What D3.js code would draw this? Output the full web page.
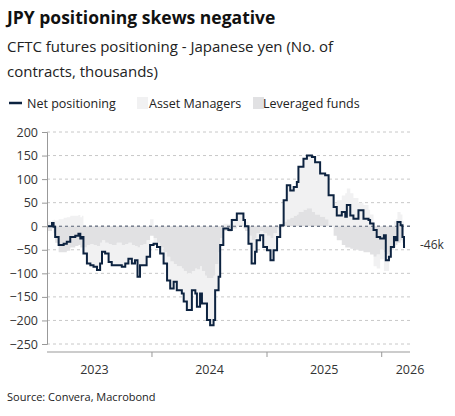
<!DOCTYPE html>
<html><head><meta charset="utf-8">
<script src="https://cdn.jsdelivr.net/npm/d3@7"></script>
<style>body{margin:0;background:#fff;font-family:"Open Sans",sans-serif;}</style>
</head><body><div id="chart"></div>
<script>
const dates = ["2023-02-01","2023-02-17","2023-02-22","2023-02-27","2023-03-10","2023-03-26","2023-04-05","2023-04-16","2023-05-02","2023-05-12","2023-05-18","2023-05-23","2023-05-28","2023-06-08","2023-06-19","2023-06-29","2023-07-10","2023-07-20","2023-07-26","2023-08-05","2023-08-16","2023-08-26","2023-09-11","2023-09-27","2023-10-08","2023-10-18","2023-10-29","2023-11-08","2023-11-16","2023-11-24","2023-12-05","2023-12-15","2023-12-26",
"2024-01-06","2024-01-17","2024-01-27","2024-02-07","2024-02-18","2024-02-28","2024-03-10","2024-03-20","2024-04-05","2024-04-11","2024-04-21","2024-05-02","2024-05-07","2024-05-18","2024-05-23","2024-06-02","2024-06-08","2024-06-18","2024-06-24","2024-07-04","2024-07-15","2024-07-20","2024-07-31","2024-08-05","2024-08-15","2024-08-31","2024-09-11","2024-09-27","2024-10-07","2024-10-18","2024-10-23","2024-11-03","2024-11-13","2024-11-24","2024-11-29","2024-12-10","2024-12-20",
"2025-01-01","2025-01-12","2025-01-22","2025-02-02","2025-02-12","2025-02-23","2025-03-05","2025-03-16","2025-03-27","2025-04-06","2025-04-11","2025-04-27","2025-05-08","2025-05-24","2025-06-03","2025-06-19","2025-07-05","2025-07-16","2025-08-01","2025-08-11","2025-08-27","2025-09-07","2025-09-12","2025-09-23","2025-10-03","2025-10-19","2025-11-04","2025-11-20","2025-11-25","2025-12-06","2025-12-16","2025-12-27",
"2026-01-08","2026-01-14","2026-01-24","2026-01-30","2026-02-09","2026-02-15","2026-02-20","2026-03-02","2026-03-08","2026-03-13"];
const netPositioning = [0,7,-1,-23,-40,-37,-33,-23,-20,-16,-26,-23,-58,-79,-83,-86,-93,-79,-54,-58,-76,-83,-83,-86,-79,-69,-79,-72,-107,-83,-83,-65,-40,
-37,-44,-58,-79,-115,-132,-118,-136,-143,-160,-178,-178,-136,-143,-171,-143,-164,-164,-199,-210,-199,-136,-107,-40,-5,-8,13,27,27,13,0,-37,-79,-54,-30,-19,-44,
-51,-72,-51,-23,2,55,87,76,83,94,126,143,150,147,136,112,108,66,41,23,30,20,45,23,16,34,16,13,6,-8,-23,-26,
-19,-72,-65,-44,-23,-30,9,2,-23,-46];
const leveragedFunds = [-10,-5,-15,-35,-55,-55,-52,-45,-42,-40,-45,-45,-45,-40,-38,-40,-42,-35,-30,-35,-38,-40,-35,-40,-38,-35,-40,-42,-45,-40,-38,-30,-20,
-25,-35,-45,-55,-65,-75,-80,-85,-90,-95,-100,-100,-95,-90,-92,-85,-95,-105,-110,-110,-105,-80,-55,-25,-10,-12,-5,0,2,-5,-10,-20,-30,-25,-15,-10,-15,
-20,-25,-15,-5,5,10,15,18,22,25,30,35,38,30,25,20,15,0,-20,-30,-40,-45,-45,-48,-50,-52,-55,-55,-60,-65,-60,-50,
-55,-60,-55,-50,-45,-40,-35,-30,-35,-40];
const assetManagers = [10,12,14,12,15,18,19,22,22,24,19,22,-13,-39,-45,-46,-51,-44,-24,-23,-38,-43,-48,-46,-41,-34,-39,-30,-62,-43,-45,-35,15,
-12,-9,-13,-24,-50,-57,-38,-51,-53,-65,-78,-78,-41,-53,-79,-58,-69,-59,-89,-100,-94,-56,-52,-15,5,4,18,27,25,18,10,-17,-49,-29,-15,-9,-29,
-31,-47,-36,-18,-3,45,72,58,61,69,96,108,112,117,111,92,93,66,50,55,65,70,80,70,60,50,45,35,25,-20,-30,-20,
-40,-35,-15,0,10,15,30,25,10,5];
const yTicks = [200,150,100,50,0,-50,-100,-150,-200,-250];
const lastLabel = "-46k";

const W = 455, H = 416;
const m = {left:47, right:45, top:132, bottom:72};
const svg = d3.select("#chart").append("svg").attr("width", W).attr("height", H);

const parse = d3.timeParse("%Y-%m-%d");
const rows = dates.map((d,i) => ({date: parse(d), net: netPositioning[i], lf: leveragedFunds[i], am: assetManagers[i]}));

const x = d3.scaleTime().domain([parse("2023-02-01"), parse("2026-04-01")]).range([m.left, W - m.right]);
const y = d3.scaleLinear().domain([-250, 200]).range([344, 132]);

// grid
svg.append("g").selectAll("line").data(yTicks).join("line")
	.attr("x1", m.left).attr("x2", W - m.right)
	.attr("y1", d => y(d)).attr("y2", d => y(d))
	.attr("stroke", d => d === 0 ? "#5a6478" : "#c8c8c8")
	.attr("stroke-dasharray", "3,3");

// diverging stacked areas
const stack = d3.stack().keys(["lf","am"]).offset(d3.stackOffsetDiverging);
const series = stack(rows);
const fills = {lf: "#e1e1e3", am: "#f1f1f2"};
const area = d3.area().curve(d3.curveStepAfter)
	.x(d => x(d.data.date)).y0(d => y(d[0])).y1(d => y(d[1]));
svg.append("g").selectAll("path").data(series.slice().reverse()).join("path")
	.attr("d", area).attr("fill", d => fills[d.key]);

// redraw zero line on top of areas
svg.append("line").attr("x1", m.left).attr("x2", W - m.right)
	.attr("y1", y(0)).attr("y2", y(0))
	.attr("stroke", "#5a6478").attr("stroke-dasharray", "3,3");

// net line
svg.append("path").datum(rows)
	.attr("d", d3.line().curve(d3.curveStepAfter).x(d => x(d.date)).y(d => y(d.net)))
	.attr("fill", "none").attr("stroke", "#0d2340").attr("stroke-width", 2);

// y axis
const yAxis = svg.append("g").attr("transform", `translate(${m.left},0)`)
	.call(d3.axisLeft(y).tickValues(yTicks).tickSize(5).tickPadding(4));
yAxis.select(".domain").attr("stroke", "#999");
yAxis.selectAll(".tick line").attr("stroke", "#999");
yAxis.selectAll("text").attr("font-family", "Open Sans").attr("font-size", 12.5).attr("fill", "#333");

// x axis
const xAxis = svg.append("g").attr("transform", `translate(0,${y(-250) + 8})`);
xAxis.append("line").attr("x1", m.left).attr("x2", W - m.right).attr("stroke", "#999");
const yearTicks = ["2024-01-01","2025-01-01","2026-01-01"].map(parse);
xAxis.selectAll(".yt").data(yearTicks).join("line")
	.attr("x1", d => x(d)).attr("x2", d => x(d)).attr("y1", 0).attr("y2", 5).attr("stroke", "#999");
const yearLabels = [["2023","2023-07-02"],["2024","2024-07-02"],["2025","2025-07-02"],["2026","2026-04-01"]];
xAxis.selectAll("text").data(yearLabels).join("text")
	.attr("x", d => x(parse(d[1]))).attr("y", 22).attr("text-anchor", "middle")
	.attr("font-size", 12.5).attr("fill", "#333").text(d => d[0]);

// last value label
svg.append("text").attr("x", 420).attr("y", y(-46) - 2).attr("font-size", 12).attr("fill", "#333")
	.attr("dominant-baseline", "middle").text(lastLabel);

// titles
svg.append("text").attr("x", 7).attr("y", 24).attr("font-size", 17.5).attr("font-weight", "bold").attr("fill", "#111")
	.text("JPY positioning skews negative");
svg.append("text").attr("x", 7).attr("y", 52).attr("font-size", 15).attr("fill", "#222")
	.text("CFTC futures positioning - Japanese yen (No. of");
svg.append("text").attr("x", 7).attr("y", 77).attr("font-size", 15).attr("fill", "#222")
	.text("contracts, thousands)");

// legend
const lg = svg.append("g").attr("transform", "translate(9,103)").attr("font-size", 12.5).attr("fill", "#222");
lg.append("line").attr("x1", 0).attr("x2", 13).attr("y1", 0).attr("y2", 0).attr("stroke", "#0d2340").attr("stroke-width", 2.5);
lg.append("text").attr("x", 18).attr("y", 4.5).text("Net positioning");
lg.append("rect").attr("x", 128).attr("y", -6).attr("width", 11).attr("height", 12).attr("fill", fills.am);
lg.append("text").attr("x", 140).attr("y", 4.5).text("Asset Managers");
lg.append("rect").attr("x", 244).attr("y", -6).attr("width", 11).attr("height", 12).attr("fill", fills.lf);
lg.append("text").attr("x", 254).attr("y", 4.5).text("Leveraged funds");

svg.append("text").attr("x", 7).attr("y", 401).attr("font-size", 11).attr("fill", "#222").text("Source: Convera, Macrobond");
</script></body></html>
